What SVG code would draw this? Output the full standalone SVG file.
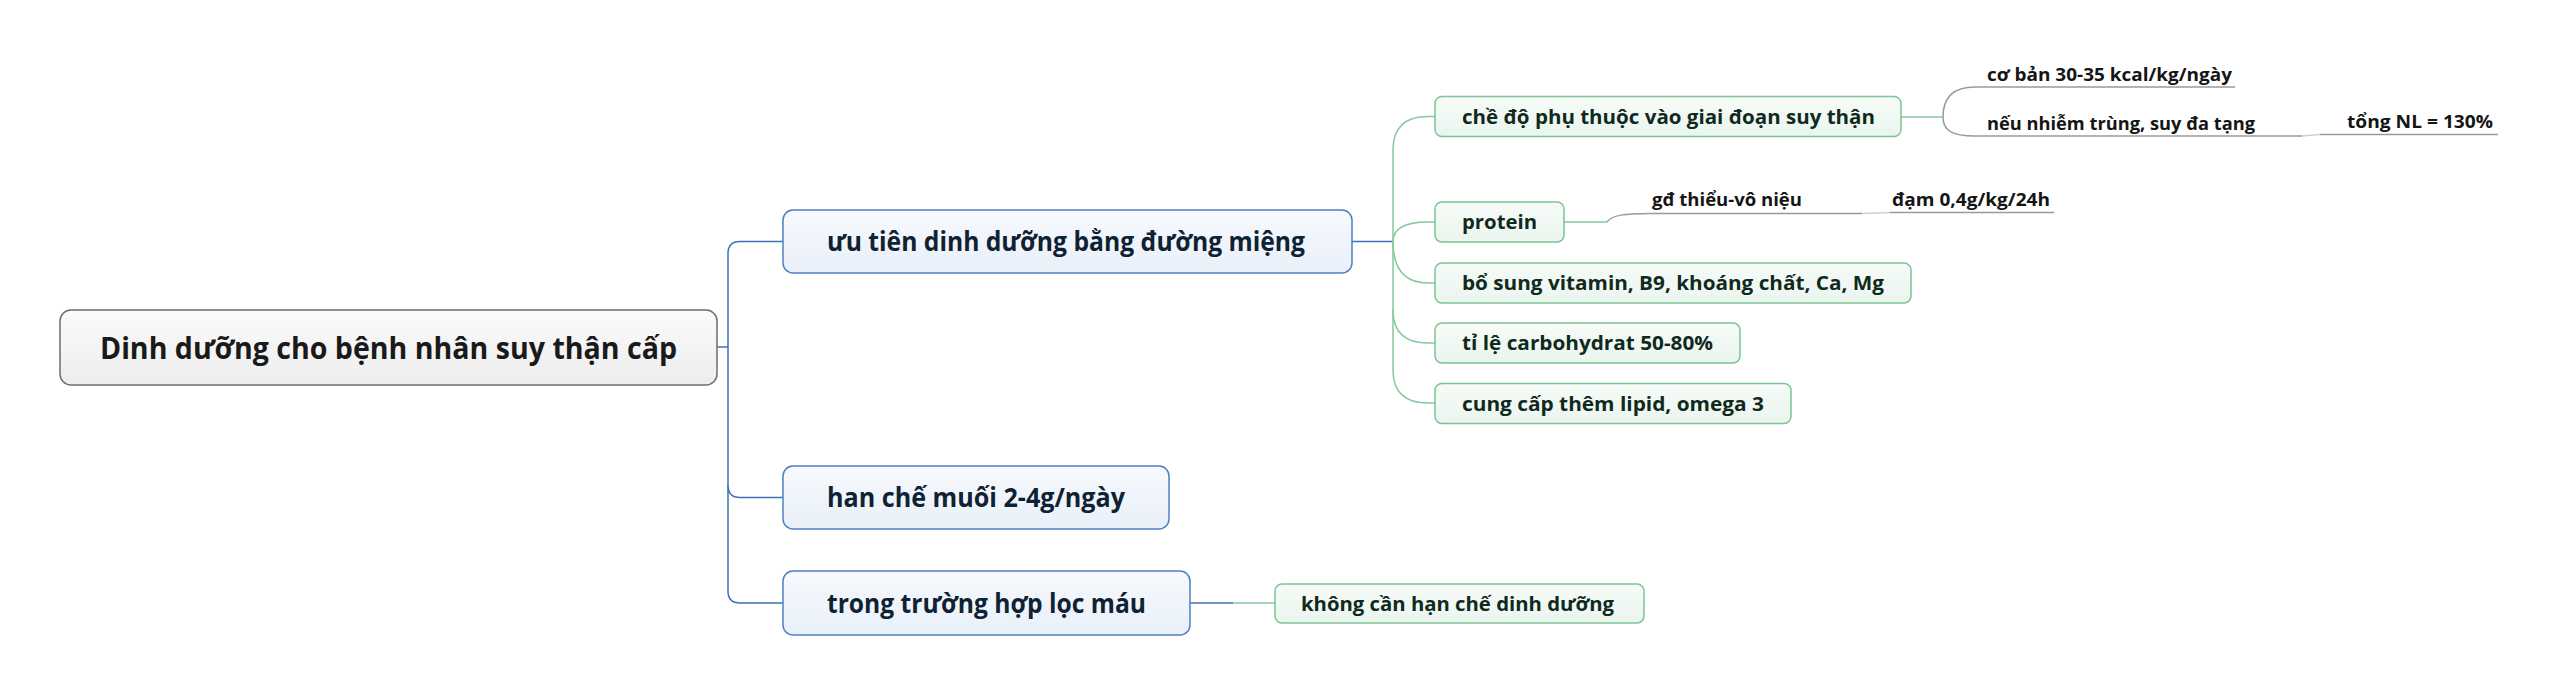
<svg xmlns="http://www.w3.org/2000/svg" width="2557" height="695" viewBox="0 0 2557 695">
<defs>
<linearGradient id="gRoot" x1="0" y1="0" x2="0" y2="1"><stop offset="0" stop-color="#fbfbfb"/><stop offset="1" stop-color="#ededed"/></linearGradient>
<linearGradient id="gBlue" x1="0" y1="0" x2="0" y2="1"><stop offset="0" stop-color="#f7f9fd"/><stop offset="1" stop-color="#e9f0f9"/></linearGradient>
<linearGradient id="gGreen" x1="0" y1="0" x2="0" y2="1"><stop offset="0" stop-color="#f7fbf8"/><stop offset="1" stop-color="#eaf5ee"/></linearGradient>
</defs>
<style>
text{font-family:"Open Sans","Noto Sans","DejaVu Sans",sans-serif;font-weight:bold}
.root rect{fill:url(#gRoot);stroke:#6e6e6e;stroke-width:1.5}
.root text{font-size:30px;fill:#1a1a1a}
.blue rect{fill:url(#gBlue);stroke:#4f7fbf;stroke-width:1.5}
.blue text{font-size:26px;fill:#0f2233}
.green rect{fill:url(#gGreen);stroke:#7cc495;stroke-width:1.5}
.green text{font-size:20px;fill:#0f2a1d}
.lbl text{font-size:18px;fill:#151515}
.cb{fill:none;stroke:#3f72b4;stroke-width:1.5}
.cg{fill:none;stroke:#86c99e;stroke-width:1.5}
.cy{fill:none;stroke:#9a9a9a;stroke-width:1.5}
.cl{fill:none;stroke:#d0d0d0;stroke-width:1.5}
</style>
<rect width="2557" height="695" fill="#ffffff"/>
<g id="connectors">
<path class="cb" d="M717,347 H728"/>
<path class="cb" d="M783,241.5 H740 Q728,241.5 728,253.5 V591 Q728,603 740,603 H783"/>
<path class="cb" d="M728,485.5 Q728,497.5 740,497.5 H783"/>
<path class="cb" d="M1352,241.5 H1393"/>
<path class="cg" d="M1435,116.5 H1428 Q1393,116.5 1393,150 V370 Q1393,403 1428,403 H1435"/>
<path class="cg" d="M1393,241.5 Q1393,222 1428,222 H1435"/>
<path class="cg" d="M1393,241.5 Q1393,283 1428,283 H1435"/>
<path class="cg" d="M1393,310 Q1393,343 1428,343 H1435"/>
<path class="cb" d="M1190,603 H1233"/>
<path class="cg" d="M1233,603 H1275"/>
<path class="cg" d="M1901,117 H1943"/>
<path class="cy" d="M1975,87 C1951,87 1943,100 1943,117 C1943,130 1951,136 1975,136"/>
<path class="cy" d="M1975,87 H2235"/>
<path class="cy" d="M1975,136 H2302"/>
<path class="cl" d="M2302,136 L2320,134.5"/>
<path class="cy" d="M2320,134.5 H2498"/>
<path class="cg" d="M1564,222 H1607"/>
<path class="cy" d="M1607,222 C1612,215 1625,213.5 1650,213.5 H1862"/>
<path class="cl" d="M1862,213.5 L1890,212.5"/>
<path class="cy" d="M1890,212.5 H2054"/>
</g>
<g id="root" class="root">
<rect x="60" y="310" width="657" height="75" rx="11"/>
<text x="100" y="358.5" textLength="577" lengthAdjust="spacingAndGlyphs">Dinh dưỡng cho bệnh nhân suy thận cấp</text>
</g>
<g id="n-uutien" class="blue">
<rect x="783" y="210" width="569" height="63" rx="10"/>
<text x="827" y="251" textLength="478" lengthAdjust="spacingAndGlyphs">ưu tiên dinh dưỡng bằng đường miệng</text>
</g>
<g id="n-hanche" class="blue">
<rect x="783" y="466" width="386" height="63" rx="10"/>
<text x="827" y="507" textLength="298" lengthAdjust="spacingAndGlyphs">han chế muối 2-4g/ngày</text>
</g>
<g id="n-locmau" class="blue">
<rect x="783" y="571" width="407" height="64" rx="10"/>
<text x="827" y="612.5" textLength="319" lengthAdjust="spacingAndGlyphs">trong trường hợp lọc máu</text>
</g>
<g id="n-chedo" class="green">
<rect x="1435" y="96.5" width="466" height="40" rx="7"/>
<text x="1462" y="123.5" textLength="413" lengthAdjust="spacingAndGlyphs">chề độ phụ thuộc vào giai đoạn suy thận</text>
</g>
<g id="n-protein" class="green">
<rect x="1435" y="202" width="129" height="40" rx="7"/>
<text x="1462" y="229" textLength="75" lengthAdjust="spacingAndGlyphs">protein</text>
</g>
<g id="n-vitamin" class="green">
<rect x="1435" y="263" width="476" height="40" rx="7"/>
<text x="1462" y="290" textLength="422" lengthAdjust="spacingAndGlyphs">bổ sung vitamin, B9, khoáng chất, Ca, Mg</text>
</g>
<g id="n-carb" class="green">
<rect x="1435" y="323" width="305" height="40" rx="7"/>
<text x="1462" y="350" textLength="251" lengthAdjust="spacingAndGlyphs">tỉ lệ carbohydrat 50-80%</text>
</g>
<g id="n-lipid" class="green">
<rect x="1435" y="383.5" width="356" height="40" rx="7"/>
<text x="1462" y="410.5" textLength="302" lengthAdjust="spacingAndGlyphs">cung cấp thêm lipid, omega 3</text>
</g>
<g id="n-khongcan" class="green">
<rect x="1275" y="584" width="369" height="39" rx="7"/>
<text x="1301" y="610.5" textLength="313" lengthAdjust="spacingAndGlyphs">không cần hạn chế dinh dưỡng</text>
</g>
<g id="l-coban" class="lbl"><text x="1987" y="81" textLength="245" lengthAdjust="spacingAndGlyphs">cơ bản 30-35 kcal/kg/ngày</text></g>
<g id="l-nhiemtrung" class="lbl"><text x="1987" y="130" textLength="268" lengthAdjust="spacingAndGlyphs">nếu nhiễm trùng, suy đa tạng</text></g>
<g id="l-tongnl" class="lbl"><text x="2347" y="128" textLength="146" lengthAdjust="spacingAndGlyphs">tổng NL = 130%</text></g>
<g id="l-gd" class="lbl"><text x="1652" y="206" textLength="150" lengthAdjust="spacingAndGlyphs">gđ thiểu-vô niệu</text></g>
<g id="l-dam" class="lbl"><text x="1892" y="206" textLength="158" lengthAdjust="spacingAndGlyphs">đạm 0,4g/kg/24h</text></g>
</svg>
